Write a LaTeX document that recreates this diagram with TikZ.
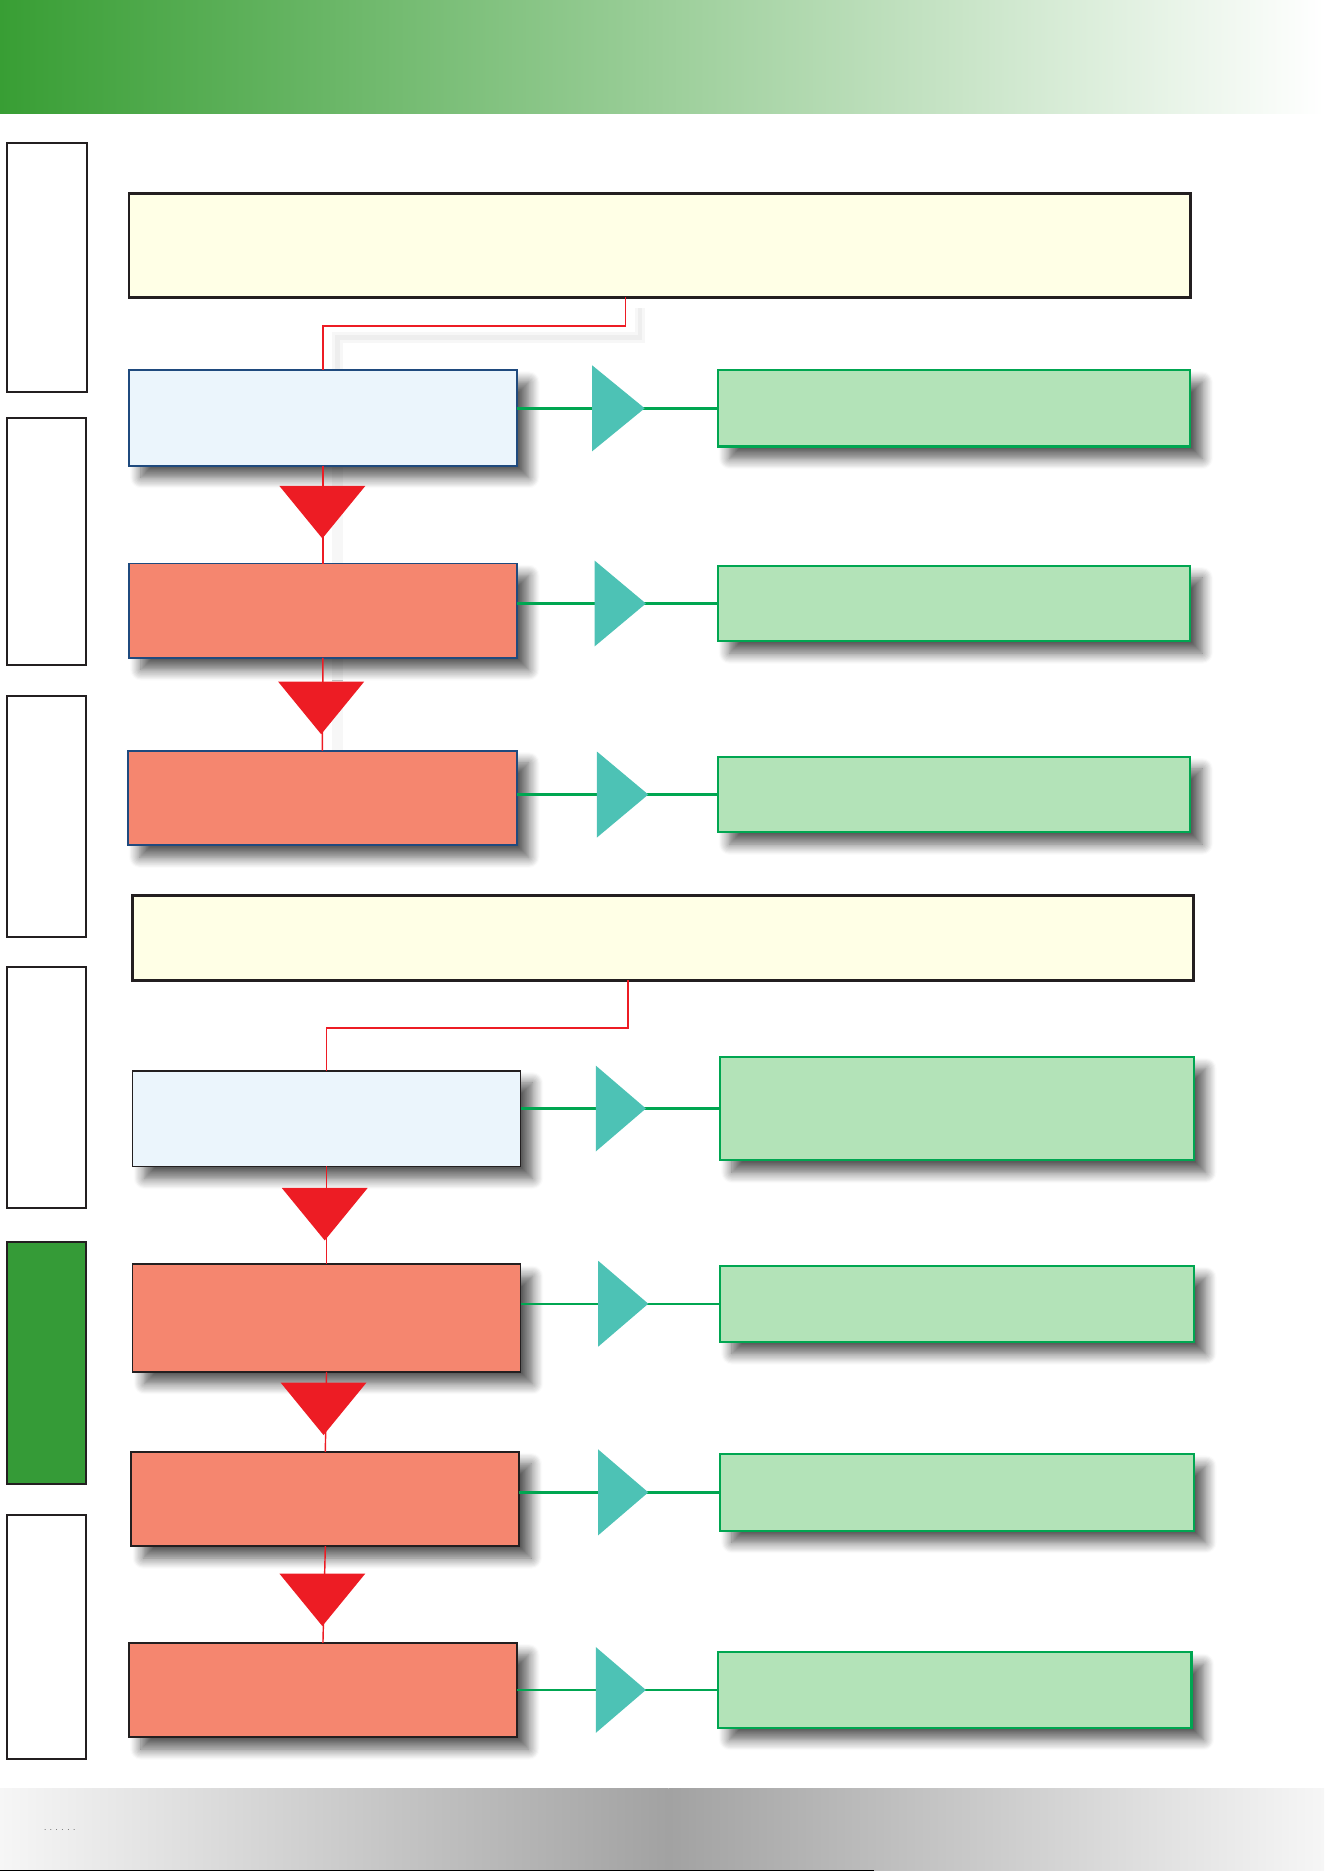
\documentclass[tikz,border=0pt]{standalone}
\usetikzlibrary{shadows.blur,calc}
\definecolor{dk}{HTML}{231F20}
\definecolor{ylw}{HTML}{FFFFE6}
\definecolor{lblue}{HTML}{EBF5FC}
\definecolor{nav}{HTML}{1F4A7E}
\definecolor{salm}{HTML}{F5866F}
\definecolor{gfill}{HTML}{B3E3B8}
\definecolor{gline}{HTML}{00A651}
\definecolor{teal2}{HTML}{4DC2B5}
\definecolor{redd}{HTML}{ED1C24}
\definecolor{lgreen}{HTML}{359B37}
\definecolor{hdrL}{HTML}{389E34}
\definecolor{hdrM}{HTML}{9DD08C}
\definecolor{wht}{HTML}{FFFFFF}
\definecolor{ftrE}{HTML}{F6F6F6}
\definecolor{ftrM}{HTML}{A2A2A2}
\definecolor{fnt1}{HTML}{F7F7F7}
\definecolor{fnt2}{HTML}{EEEEEE}
\tikzset{
  base/.style={rectangle,inner sep=0pt,outer sep=0pt},
  sh/.style={blur shadow={shadow xshift=10pt,shadow yshift=-10pt,shadow blur radius=9pt,shadow blur steps=10,shadow opacity=65}},
  sidebox/.style={base,draw=dk,line width=1.6pt,fill=white},
  sidegreen/.style={base,draw=dk,line width=1.6pt,fill=lgreen},
  topbox/.style={base,draw=dk,line width=2.4pt,fill=ylw},
  startA/.style={base,draw=nav,line width=1.5pt,fill=lblue,sh},
  startB/.style={base,draw=dk,line width=1.5pt,fill=lblue,sh},
  stepA/.style={base,draw=nav,line width=1.5pt,fill=salm,sh},
  stepB/.style={base,draw=dk,line width=1.6pt,fill=salm,sh},
  outbox/.style={base,draw=gline,line width=1.7pt,fill=gfill,sh},
  redline/.style={draw=redd,line width=1.2pt},
  grnline/.style={draw=gline,line width=2pt},
}
\newcommand{\rbox}[6]{\node[#6,minimum width={(#4-#2)*1pt},minimum height={(#5-#3)*1pt}] (#1) at ({(#2+#4)/2},{(#3+#5)/2}) {};}
\newcommand{\teal}[3]{\fill[teal2] (#1,#3-36) -- (#2,#3) -- (#1,#3+36) -- cycle;}
\newcommand{\redtri}[2]{\fill[redd] (#1-36,#2) -- (#1+36,#2) -- (#1,#2+44) -- cycle;}
\begin{document}
\begin{tikzpicture}[x=1pt,y=-1pt]
\useasboundingbox (0,0) rectangle (1109,1568);
% header
\shade[left color=hdrL,middle color=hdrM,right color=wht] (0,0) rectangle (1109,95);
% footer
\shade[left color=ftrE,right color=ftrM] (0,1498) rectangle (560,1567);
\shade[left color=ftrM,right color=ftrE] (560,1498) rectangle (1109,1567);
\draw[black,line width=1pt] (0,1566.5) -- (732,1566.5);
\node[inner sep=0pt,font=\fontsize{7}{7}\selectfont] (dots) at (50,1533) {.\kern2.6pt.\kern2.6pt.\kern2.6pt.\kern2.6pt.\kern2.6pt.};
% left column
\rbox{L1}{6}{120}{73}{328}{sidebox}
\rbox{L2}{6}{350}{72}{557}{sidebox}
\rbox{L3}{6}{583}{72}{785}{sidebox}
\rbox{L4}{6}{810}{72}{1012}{sidebox}
\rbox{L5}{6}{1040}{72}{1243}{sidegreen}
\rbox{L6}{6}{1269}{72}{1473}{sidebox}
% faint connector shadows
\draw[fnt1,line width=9pt] (536,258) -- (536,283) -- (283,283) -- (283,310);
\draw[fnt2,line width=4pt] (536,258) -- (536,283) -- (283,283) -- (283,310);
\draw[fnt1,line width=9pt] (283,390) -- (283,472);
\draw[fnt1,line width=9pt] (283,551) -- (283,629);
% section 1
\rbox{Y1}{108}{162}{997}{249}{topbox}
\rbox{B1}{108}{310}{433}{390}{startA}
\rbox{S1}{108}{472}{433}{551}{stepA}
\rbox{S2}{107}{629}{433}{708}{stepA}
\rbox{G1}{601}{310}{997}{374}{outbox}
\rbox{G2}{601}{474}{997}{537}{outbox}
\rbox{G3}{601}{634}{997}{697}{outbox}
% section 2
\rbox{Y2}{111}{750}{1000}{821}{topbox}
\rbox{B2}{111}{897}{436}{977}{startB}
\rbox{S3}{111}{1059}{436}{1149}{stepB}
\rbox{S4}{110}{1216}{435}{1295}{stepB}
\rbox{S5}{108}{1376}{433}{1455}{stepB}
\rbox{G4}{603}{885}{1000}{972}{outbox}
\rbox{G5}{603}{1060}{1000}{1124}{outbox}
\rbox{G6}{603}{1218}{1000}{1282}{outbox}
\rbox{G7}{601}{1384}{998}{1447}{outbox}
% red connectors
\coordinate (c1) at (524,249);
\coordinate (c2) at (526,821);
\draw[redline] (c1) -- ++(0,24) -| (B1.north);
\draw[redline] (c2) -- ++(0,40) -| (B2.north);
\draw[redline] (B1.south) -- (S1.north);
\draw[redline] (S1.south) -- (S2.north);
\draw[redline] (B2.south) -- (S3.north);
\draw[redline] (S3.south) -- (S4.north);
\draw[redline] (S4.south) -- (S5.north);
\redtri{270}{407}
\redtri{269}{571}
\redtri{272}{995}
\redtri{271}{1158}
\redtri{270}{1318}
% green connectors
\draw[grnline] (G1.west) -- (G1.west -| B1.east);
\draw[grnline] (G2.west) -- (G2.west -| S1.east);
\draw[grnline] (G3.west) -- (G3.west -| S2.east);
\draw[grnline] (G4.west) -- (G4.west -| B2.east);
\draw[grnline] (G5.west) -- (G5.west -| S3.east);
\draw[grnline] (G6.west) -- (G6.west -| S4.east);
\draw[grnline] (G7.west) -- (G7.west -| S5.east);
\teal{496}{540}{342}
\teal{498}{541}{505.5}
\teal{500}{543}{665.5}
\teal{499}{541}{928.5}
\teal{501}{543}{1092}
\teal{501}{543}{1250}
\teal{499}{541}{1415.5}
\end{tikzpicture}
\end{document}
